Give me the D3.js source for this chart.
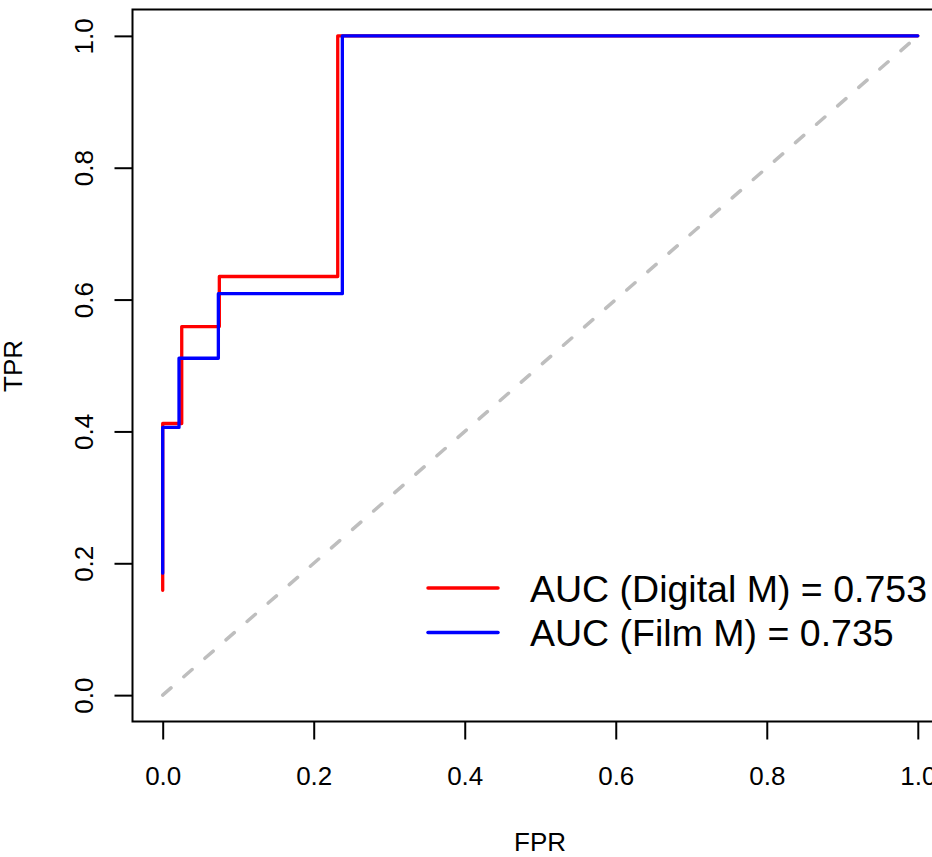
<!DOCTYPE html>
<html>
<head>
<meta charset="utf-8">
<script src="https://cdn.jsdelivr.net/npm/d3@7"></script>
<style>
  body { margin: 0; background: #fff; }
  svg { display: block; font-family: "Liberation Sans", Arial, sans-serif; }
</style>
</head>
<body>
<div id="chart-area"></div>
<script>
// data: ROC steps (curveStepAfter)
var digitalFpr = [0, 0, 0.0252, 0.075, 0.2318, 1];
var digitalTpr = [0.159, 0.412, 0.559, 0.635, 1, 1];
var filmFpr = [0, 0, 0.0216, 0.0737, 0.2379, 1];
var filmTpr = [0.185, 0.406, 0.511, 0.609, 1, 1];
var xTicks = [0, 0.2, 0.4, 0.6, 0.8, 1];
var yTicks = [0, 0.2, 0.4, 0.6, 0.8, 1];
var legendLabels = ["AUC (Digital M) = 0.753", "AUC (Film M) = 0.735"];
var seriesColors = ["#ff0000", "#0000ff"];

var width = 932, height = 857;

var svg = d3.select("#chart-area").append("svg")
    .attr("width", width)
    .attr("height", height);

// Scales (R style: 4% padding around 0..1)
var x = d3.scaleLinear().domain([-0.04, 1.04]).range([132.5, 948]);
var y = d3.scaleLinear().domain([-0.04, 1.04]).range([721.5, 9.5]);

// box
svg.append("rect")
    .attr("x", x(-0.04)).attr("y", y(1.04))
    .attr("width", x(1.04) - x(-0.04))
    .attr("height", y(-0.04) - y(1.04))
    .attr("fill", "none")
    .attr("stroke", "#000")
    .attr("stroke-width", 2);

//Axis
var xAxis = svg.append("g")
    .attr("transform", "translate(0," + y(-0.04) + ")")
    .call(d3.axisBottom(x).tickValues(xTicks).tickSize(18).tickFormat(d3.format(".1f")));
xAxis.select(".domain").remove();
xAxis.selectAll(".tick line").attr("stroke", "#000").attr("stroke-width", 2);
xAxis.selectAll(".tick text")
    .attr("y", 63).attr("dy", 0)
    .attr("font-size", 26).attr("fill", "#000")
    .attr("font-family", "Liberation Sans, Arial, sans-serif");

var yAxis = svg.append("g")
    .attr("transform", "translate(" + x(-0.04) + ",0)")
    .call(d3.axisLeft(y).tickValues(yTicks).tickSize(18).tickFormat(d3.format(".1f")));
yAxis.select(".domain").remove();
yAxis.selectAll(".tick line").attr("stroke", "#000").attr("stroke-width", 2);
yAxis.selectAll(".tick text")
    .attr("x", 0).attr("dy", 0)
    .attr("transform", "translate(-40,0) rotate(-90)")
    .attr("text-anchor", "middle")
    .attr("font-size", 26).attr("fill", "#000")
    .attr("font-family", "Liberation Sans, Arial, sans-serif");

// axis titles
svg.append("text")
    .attr("x", 540).attr("y", 851)
    .attr("text-anchor", "middle")
    .attr("font-size", 26)
    .text("FPR");
svg.append("text")
    .attr("transform", "translate(22,366) rotate(-90)")
    .attr("text-anchor", "middle")
    .attr("font-size", 26)
    .text("TPR");

// diagonal reference
svg.append("line")
    .attr("x1", x(0)).attr("y1", y(0))
    .attr("x2", x(1)).attr("y2", y(1))
    .attr("stroke", "#bebebe")
    .attr("stroke-width", 3.5)
    .attr("stroke-linecap", "round")
    .attr("stroke-dasharray", "11,17");

// ROC lines
var line = d3.line()
    .x(function(d) { return x(d[0]); })
    .y(function(d) { return y(d[1]); })
    .curve(d3.curveStepAfter);

var series = [
    d3.zip(digitalFpr, digitalTpr),
    d3.zip(filmFpr, filmTpr)
];

svg.selectAll(".roc")
    .data(series)
    .enter().append("path")
    .attr("class", "roc")
    .attr("d", line)
    .attr("fill", "none")
    .attr("stroke", function(d, i) { return seriesColors[i]; })
    .attr("stroke-width", 3.3)
    .attr("stroke-linecap", "round")
    .attr("stroke-linejoin", "round");

// legend
var legend = svg.selectAll(".legend")
    .data(legendLabels)
    .enter().append("g")
    .attr("class", "legend")
    .attr("transform", function(d, i) { return "translate(0," + (588 + i * 44.5) + ")"; });

legend.append("line")
    .attr("x1", 428).attr("x2", 498)
    .attr("stroke", function(d, i) { return seriesColors[i]; })
    .attr("stroke-width", 3.5)
    .attr("stroke-linecap", "round");

legend.append("text")
    .attr("x", 530).attr("y", 13.5)
    .attr("font-size", 37.5)
    .text(function(d) { return d; });
</script>
</body>
</html>
